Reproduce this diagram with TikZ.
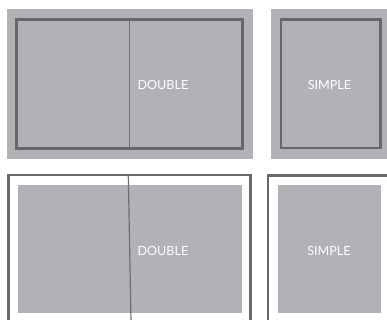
\documentclass[tikz,border=0pt]{standalone}
\usepackage{fontspec}
\setmainfont{Lato}
\definecolor{panel}{HTML}{B1B2B6}
\definecolor{frame}{HTML}{68686A}
\definecolor{divider}{HTML}{6E6E70}
\tikzset{
  panelfill/.style={fill=panel},
  framebox/.style={draw=frame, line width=2.5pt},
  divline/.style={draw=divider, line width=1.2pt},
  label/.style={text=white, font=\fontsize{12.6}{13}\selectfont, inner sep=0pt}
}
\begin{document}
\begin{tikzpicture}[x=1pt,y=-1pt]
\useasboundingbox[fill=white] (0,0) rectangle (387,320);
% top-left: double
\fill[panelfill] (7,9.3) rectangle (253,159);
\draw[framebox] (16.7,19.5) rectangle (242.3,148.3);
\coordinate (dtt) at (129.3,18.5);
\coordinate (dtb) at (129.3,148.3);
\draw[divline] (dtt) -- (dtb);
\node[label, anchor=west] (dbltop) at (137.3,85) {DOUBLE};
% top-right: simple
\fill[panelfill] (271,9.3) rectangle (387,159);
\draw[framebox] (281,19.5) rectangle (380.5,148);
\node[label] (simtop) at (329.5,85) {SIMPLE};
% bottom-left: double
\draw[framebox] (8.3,330) -- (8.3,175.2) -- (250.7,175.2) -- (250.7,330);
\fill[panelfill] (18,185) rectangle (242,313);
\coordinate (dbt) at (128.3,175);
\coordinate (dbb) at (131,322);
\draw[divline] (dbt) -- (dbb);
\node[label, anchor=west] (dblbot) at (137.3,251) {DOUBLE};
% bottom-right: simple
\draw[framebox] (268,330) -- (268,175.3) -- (395,175.3);
\fill[panelfill] (277.7,185) rectangle (381,313);
\node[label] (simbot) at (329,251) {SIMPLE};
\end{tikzpicture}
\end{document}
